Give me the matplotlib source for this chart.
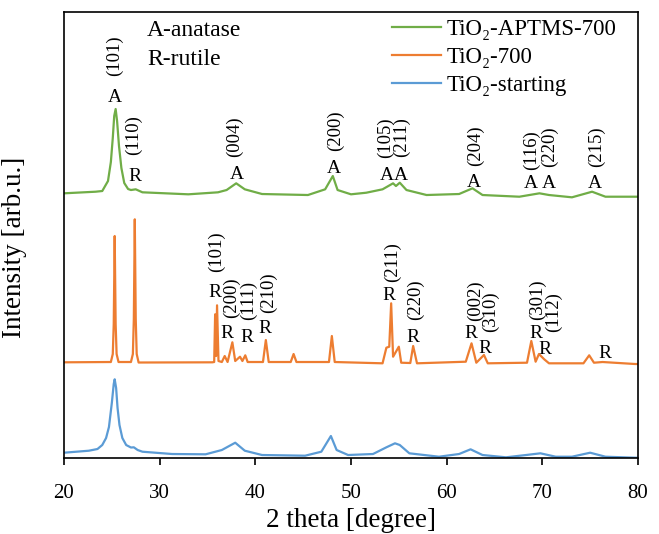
import matplotlib
matplotlib.use("Agg")
import matplotlib.pyplot as plt

plt.rcParams["font.family"] = ["Liberation Serif", "DejaVu Serif"]

# 2 theta [deg] / intensity [arb.u.]
two_theta_starting = [20.0, 22.6, 23.5, 24.0, 24.4, 24.7, 25.0, 25.2, 25.3, 25.45, 25.6,
                      25.8, 26.1, 26.5, 27.0, 27.3, 27.7, 28.2, 31.3, 34.8, 36.5, 37.9,
                      38.9, 40.7, 45.2, 46.9, 47.9, 48.5, 49.7, 52.3, 53.7, 54.6, 55.1,
                      56.1, 59.2, 61.3, 62.5, 63.75, 66.2, 68.3, 69.8, 71.4, 73.1, 75.0,
                      76.6, 79.7, 80.0]
int_starting = [5.3, 7.3, 9, 13, 20, 31, 55, 74, 78.7, 70, 50,
                33, 20, 13, 10.5, 10.7, 8, 6.3, 4, 3.7, 8, 15.3,
                7.3, 3, 2.3, 6.3, 22, 8, 3, 4, 10.7, 14.7, 13,
                4.7, 1.3, 4, 8.7, 3, 0.7, 3, 4.7, 1.3, 1.3, 5.3,
                1.3, 0.3, 0.3]

two_theta_700 = [20.0, 24.9, 25.1, 25.2, 25.3, 25.4, 25.5, 25.7, 27.0, 27.2, 27.3,
                 27.4, 27.5, 27.6, 27.8, 35.5, 35.7, 35.8, 35.9, 36.0, 36.15, 36.5,
                 36.8, 37.1, 37.6, 37.9, 38.4, 38.65, 38.95, 39.2, 40.8, 41.1, 41.4,
                 43.7, 44.0, 44.3, 47.7, 48.0, 48.3, 53.3, 53.7, 54.0, 54.2, 54.4,
                 55.0, 55.25, 56.2, 56.5, 56.9, 62.0, 62.6, 63.1, 63.9, 64.3, 68.4,
                 68.85, 69.3, 69.65, 70.2, 70.7, 74.3, 74.9, 75.4, 76.3, 79.7, 80.0]
int_700 = [1.7, 2, 10, 40, 128, 40, 10, 2, 2, 10, 45,
           144.7, 45, 10, 1.5, 1.7, 2, 49.7, 8, 58.7, 3, 2,
           8, 2, 21.7, 3, 7.3, 3, 8.7, 2, 2, 24, 2,
           2, 10, 2, 2, 28, 2, 0.7, 16.3, 17.3, 60.7, 7.3,
           17.3, 1.3, 1, 18, 0.7, 2.3, 20.7, 1.3, 9, 0.7, 1.3,
           23, 2.3, 10, 4.7, 0.7, 0.7, 8.7, 1.3, 2, 0, 0]

two_theta_aptms = [20.0, 23.3, 24.0, 24.6, 24.9, 25.1, 25.25, 25.4, 25.55, 25.75, 26.0,
                   26.3, 26.7, 27.0, 27.5, 28.2, 33.0, 36.1, 37.0, 38.0, 38.9, 40.7,
                   45.5, 47.3, 48.1, 48.6, 50.0, 51.6, 53.3, 54.4, 54.7, 55.1, 55.8,
                   57.9, 61.3, 62.7, 63.75, 67.6, 69.7, 70.7, 73.1, 75.2, 76.6, 79.7,
                   80.0]
int_aptms = [2.7, 4.3, 5, 15, 34, 58, 80, 87, 75, 50, 28,
             13, 7, 6, 6.7, 3.7, 1.7, 3.7, 6, 12.7, 6.7, 2,
             1, 6.7, 20, 6, 1.7, 3.3, 6.7, 12.7, 10, 13.3, 6,
             1, 2, 7.7, 1, -0.7, 2.7, 1, -1.3, 4.3, -0.7, -0.7,
             -0.7]

series_names = ["TiO\u2082-APTMS-700", "TiO\u2082-700", "TiO\u2082-starting"]

# peak labels: (2theta of letter, letter, y of letter, hkl, 2theta of hkl, y of hkl)
labels_aptms = [
    (25.3, "A", 361, "(101)", 25.28, 402),
    (27.4, "R", 282, "(110)", 27.26, 323),
    (38.1, "A", 284, "(004)", 37.78, 321),
    (48.2, "A", 290, "(200)", 48.40, 327),
    (53.7, "A", 283, "(105)", 53.65, 320),
    (55.2, "A", 283, "(211)", 55.30, 321),
    (62.8, "A", 276, "(204)", 63.06, 312),
    (68.85, "A", 275, "(116)", 68.90, 308),
    (70.7, "A", 275, "(220)", 70.70, 311),
    (75.5, "A", 275, "(215)", 75.67, 311),
]
labels_700 = [
    (35.8, "R", 166, "(101)", 35.90, 206),
    (37.0, "R", 125, "(200)", 37.47, 160),
    (39.1, "R", 121, "(111)", 39.27, 158),
    (41.0, "R", 130, "(210)", 41.35, 165),
    (54.0, "R", 163, "(211)", 54.31, 196),
    (56.5, "R", 121, "(220)", 56.74, 158),
    (62.5, "R", 125, "(002)", 63.06, 157),
    (64.0, "R", 110, "(310)", 64.63, 146),
    (69.3, "R", 125, "(301)", 69.50, 158),
    (70.3, "R", 109, "(112)", 71.15, 146),
    (76.5, "R", 105, "", 0, 0),
]

colors = ["#70AD47", "#ED7D31", "#5B9BD5"]
offsets = [262, 94, 0]

fig = plt.figure(figsize=(6.59, 5.34), dpi=100)
ax = fig.add_axes([0.0971, 0.1423, 0.8710, 0.8352])

patterns = [(two_theta_aptms, int_aptms), (two_theta_700, int_700),
            (two_theta_starting, int_starting)]
for (tt, inten), name, c, off in zip(patterns, series_names, colors, offsets):
    ax.plot(tt, [v + off for v in inten], color=c, linewidth=1.6, label=name)

for group in (labels_aptms, labels_700):
    for x, letter, y, hkl, xh, yh in group:
        ax.text(x, y, letter, ha="center", va="center", fontsize=14)
        if hkl:
            ax.text(xh, yh, hkl, ha="center", va="center", fontsize=13.5, rotation=90)

ax.text(0.145, 0.958, "A-anatase", transform=ax.transAxes, fontsize=17, va="center")
ax.text(0.145, 0.893, "R-rutile", transform=ax.transAxes, fontsize=17, va="center")

ax.set_xlim(20, 80)
ax.set_ylim(0, 446)
ax.set_xticks(range(20, 81, 10))
ax.set_yticks([])
ax.tick_params(axis="x", direction="out", length=5, width=1.2, labelsize=15, pad=13.5)
for s in ax.spines.values():
    s.set_linewidth(1.2)

ax.set_xlabel("2 theta [degree]", fontsize=19.5, labelpad=4)
ax.set_ylabel("Intensity [arb.u.]", fontsize=19.5)
ax.yaxis.set_label_coords(-0.0645, 0.473)

ax.legend(loc="upper right", bbox_to_anchor=(0.986, 1.015), frameon=False, fontsize=16.5,
          handlelength=2.1, handletextpad=0.25, labelspacing=0.3, borderaxespad=0.2)

fig.savefig("out.png", dpi=100)
